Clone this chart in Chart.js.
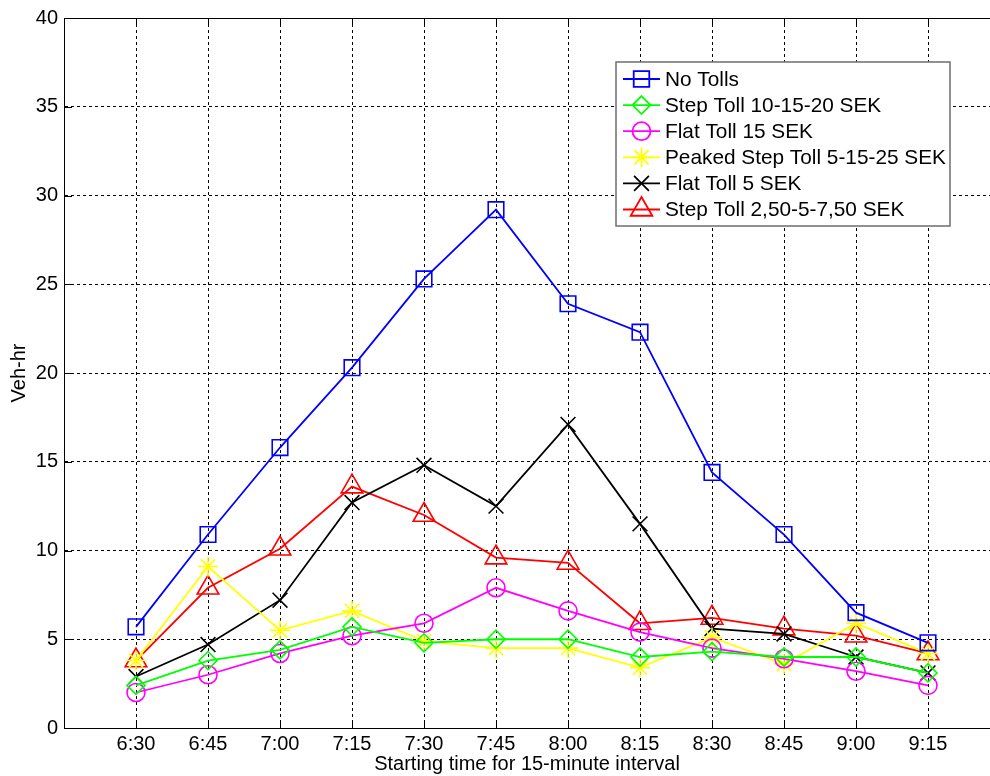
<!DOCTYPE html>
<html>
<head>
<meta charset="utf-8">
<script src="https://cdn.jsdelivr.net/npm/chart.js@4/dist/chart.umd.min.js"></script>
<style>
html,body{margin:0;padding:0;background:#fff;overflow:hidden;width:990px;height:776px;}
canvas{display:block;}
</style>
</head>
<body>
<canvas id="c" width="990" height="776"></canvas>
<script>
const timeLabels = ['6:30','6:45','7:00','7:15','7:30','7:45','8:00','8:15','8:30','8:45','9:00','9:15'];
const yTicks = [0,5,10,15,20,25,30,35,40];

const noTolls      = [5.7, 10.9, 15.8, 20.3, 25.3, 29.2, 23.9, 22.3, 14.4, 10.9, 6.5, 4.8];
const stepToll1020 = [2.4, 3.8, 4.4, 5.7, 4.8, 5.0, 5.0, 4.0, 4.3, 4.0, 4.0, 3.1];
const flatToll15   = [2.0, 3.0, 4.2, 5.2, 5.9, 7.9, 6.6, 5.4, 4.5, 3.9, 3.2, 2.4];
const peakedStep   = [3.8, 9.1, 5.5, 6.6, 4.9, 4.5, 4.5, 3.4, 5.1, 3.6, 5.9, 4.2];
const flatToll5    = [2.9, 4.7, 7.2, 12.7, 14.8, 12.5, 17.1, 11.5, 5.6, 5.3, 4.0, 3.1];
const stepToll250  = [3.8, 7.9, 10.1, 13.6, 12.0, 9.6, 9.3, 5.9, 6.2, 5.6, 5.2, 4.2];

const seriesNames = ['No Tolls','Step Toll 10-15-20 SEK','Flat Toll 15 SEK','Peaked Step Toll 5-15-25 SEK','Flat Toll 5 SEK','Step Toll 2,50-5-7,50 SEK'];
const seriesData = [noTolls, stepToll1020, flatToll15, peakedStep, flatToll5, stepToll250];
const seriesColors = ['#0000ff','#00ff00','#ff00ff','#ffff00','#000000','#ff0000'];
const seriesStyles = ['rect','rectRot','circle','star','crossRot','triangle'];
const seriesRadius = [11, 9, 9, 10, 10.5, 12.5];

const FONT = '"Liberation Sans", Arial, sans-serif';

function drawMarker(ctx, style, x, y, r) {
  ctx.beginPath();
  if (style === 'rect') {
    const s = Math.SQRT1_2 * r;
    ctx.rect(x - s, y - s, 2 * s, 2 * s);
  } else if (style === 'rectRot') {
    ctx.moveTo(x, y - r); ctx.lineTo(x + r, y); ctx.lineTo(x, y + r); ctx.lineTo(x - r, y); ctx.closePath();
  } else if (style === 'circle') {
    ctx.arc(x, y, r, 0, Math.PI * 2);
  } else if (style === 'star') {
    const d = Math.SQRT1_2 * r;
    ctx.moveTo(x, y - r); ctx.lineTo(x, y + r);
    ctx.moveTo(x - r, y); ctx.lineTo(x + r, y);
    ctx.moveTo(x - d, y - d); ctx.lineTo(x + d, y + d);
    ctx.moveTo(x - d, y + d); ctx.lineTo(x + d, y - d);
  } else if (style === 'crossRot') {
    const d = Math.SQRT1_2 * r;
    ctx.moveTo(x - d, y - d); ctx.lineTo(x + d, y + d);
    ctx.moveTo(x - d, y + d); ctx.lineTo(x + d, y - d);
  } else if (style === 'triangle') {
    const a = Math.PI * 2 / 3;
    ctx.moveTo(x, y - r);
    ctx.lineTo(x + Math.sin(a) * r, y - Math.cos(a) * r);
    ctx.lineTo(x + Math.sin(2 * a) * r, y - Math.cos(2 * a) * r);
    ctx.closePath();
  }
  ctx.stroke();
}

const framePlugin = {
  id: 'frame',
  afterDraw(chart) {
    const ctx = chart.ctx;
    const a = chart.chartArea;
    const xs = chart.scales.x, ys = chart.scales.y;
    ctx.save();
    ctx.strokeStyle = '#000';
    ctx.lineWidth = 1;
    ctx.setLineDash([]);
    ctx.beginPath();
    ctx.moveTo(a.left, a.top + 0.5); ctx.lineTo(a.right, a.top + 0.5);
    ctx.stroke();
    ctx.beginPath();
    yTicks.forEach(v => {
      const py = Math.round(ys.getPixelForValue(v)) + 0.5;
      ctx.moveTo(a.left, py); ctx.lineTo(a.left + 8, py);
    });
    timeLabels.forEach((_, i) => {
      const px = Math.round(xs.getPixelForValue(i)) + 0.5;
      ctx.moveTo(px, a.bottom); ctx.lineTo(px, a.bottom - 8);
      ctx.moveTo(px, a.top); ctx.lineTo(px, a.top + 8);
    });
    ctx.stroke();

    const bx = 616, by = 62, bw = 334, bh = 164;
    ctx.fillStyle = '#fff';
    ctx.fillRect(bx, by, bw, bh);
    ctx.strokeStyle = '#6e6e6e';
    ctx.lineWidth = 1.5;
    ctx.strokeRect(bx, by, bw, bh);
    ctx.font = '20.8px ' + FONT;
    ctx.textBaseline = 'middle';
    ctx.textAlign = 'left';
    seriesNames.forEach((name, i) => {
      const ry = 79 + i * 26.1;
      ctx.strokeStyle = seriesColors[i];
      ctx.lineWidth = 1.8;
      ctx.beginPath();
      ctx.moveTo(623, ry); ctx.lineTo(660, ry);
      ctx.stroke();
      drawMarker(ctx, seriesStyles[i], 641.5, ry, seriesRadius[i]);
      ctx.fillStyle = '#000';
      ctx.fillText(name, 665, ry + 1);
    });
    ctx.restore();
  }
};

const datasets = seriesNames.map((name, i) => ({
  label: name,
  data: seriesData[i].map((v, j) => ({x: j, y: v})),
  borderColor: seriesColors[i],
  backgroundColor: 'rgba(0,0,0,0)',
  borderWidth: 1.8,
  pointStyle: seriesStyles[i],
  pointRadius: seriesRadius[i],
  pointHoverRadius: seriesRadius[i],
  pointBorderColor: seriesColors[i],
  pointBackgroundColor: 'rgba(0,0,0,0)',
  pointBorderWidth: 1.6,
  tension: 0,
  fill: false
}));

new Chart(document.getElementById('c'), {
  type: 'line',
  data: { datasets },
  options: {
    responsive: false,
    animation: false,
    devicePixelRatio: 1,
    layout: { autoPadding: false, padding: { top: 18, right: 0, bottom: 0, left: 0 } },
    plugins: { legend: { display: false }, tooltip: { enabled: false } },
    scales: {
      x: {
        type: 'linear',
        min: -1,
        max: 11.861,
        afterBuildTicks: s => { s.ticks = timeLabels.map((_, i) => ({ value: i })); },
        afterFit: s => { s.height = 48; s.paddingLeft = 0; s.paddingRight = 0; },
        ticks: {
          autoSkip: false,
          maxRotation: 0,
          padding: 4,
          color: '#000',
          font: { family: FONT, size: 20 },
          callback: v => timeLabels[v]
        },
        grid: { color: '#000', lineWidth: 1, drawTicks: false },
        border: { display: true, color: '#000', width: 1, dash: [3, 3] },
        title: {
          display: true,
          text: 'Starting time for 15-minute interval',
          color: '#000',
          font: { family: FONT, size: 20 },
          padding: { top: 0, bottom: 0 }
        }
      },
      y: {
        min: 0,
        max: 40,
        afterBuildTicks: s => { s.ticks = yTicks.map(v => ({ value: v })); },
        afterFit: s => { s.width = 64; s.paddingTop = 0; s.paddingBottom = 0; },
        ticks: {
          padding: 6,
          color: '#000',
          font: { family: FONT, size: 20 }
        },
        grid: { color: '#000', lineWidth: 1, drawTicks: false },
        border: { display: true, color: '#000', width: 1, dash: [3, 3] },
        title: {
          display: true,
          text: 'Veh-hr',
          color: '#000',
          font: { family: FONT, size: 20 },
          padding: { top: 7, bottom: 0 }
        }
      }
    }
  },
  plugins: [framePlugin]
});
</script>
</body>
</html>
